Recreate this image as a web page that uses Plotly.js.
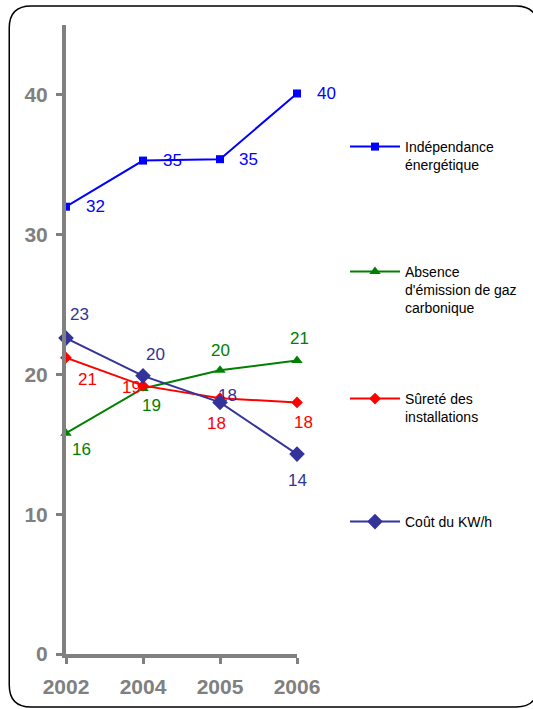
<!DOCTYPE html>
<html>
<head>
<meta charset="utf-8">
<script src="https://cdn.plot.ly/plotly-3.0.1.min.js"></script>
<style>html,body{margin:0;padding:0;background:#fff;}#chart{width:533px;height:709px;}</style>
</head>
<body>
<div id="chart"></div>
<script>
// ---- data ----
var years = ['2002', '2004', '2005', '2006'];
var seriesNames = [
  'Indépendance<br>énergétique',
  'Absence<br>d\'émission de gaz<br>carbonique',
  'Sûreté des<br>installations',
  'Coût du KW/h'
];
var independance = [32.0, 35.3, 35.4, 40.1];
var absenceCO2 = [15.8, 19.0, 20.3, 21.0];
var surete = [21.2, 19.2, 18.3, 18.0];
var cout = [22.6, 19.9, 18.0, 14.3];
var yTicks = [0, 10, 20, 30, 40];

// ---- styles ----
var colors = ['#0000FF', '#008000', '#FF0000', '#333399'];
var symbols = ['square', 'triangle-up', 'diamond', 'diamond'];
var msizes = [8, 10, 9, 12];
// label offsets in px (dx right, dy down)
var offsets = [
  [[29, 0], [29, 0], [28, 0], [29, 0]],
  [[15, 16], [8, 17], [0, -20], [2, -22]],
  [[21, 22], [-12, 2], [-4, 25], [6, 20]],
  [[13, -24], [12, -21], [7, -7], [0, 26]]
];
var allSeries = [independance, absenceCO2, surete, cout];
var legendIds = ['legend', 'legend2', 'legend3', 'legend4'];

var traces = allSeries.map(function (vals, i) {
  return {
    x: years, y: vals, type: 'scatter', mode: 'lines+markers',
    name: seriesNames[i], legend: legendIds[i],
    line: {color: colors[i], width: 2},
    marker: {color: colors[i], symbol: symbols[i], size: msizes[i]},
    cliponaxis: false, hoverinfo: 'skip'
  };
});

var annotations = [];
allSeries.forEach(function (vals, i) {
  vals.forEach(function (v, j) {
    annotations.push({
      x: j, y: v, xref: 'x', yref: 'y', showarrow: false,
      text: String(Math.round(v)),
      xshift: offsets[i][j][0], yshift: -offsets[i][j][1],
      font: {family: 'Liberation Sans, Arial, sans-serif', size: 17, color: colors[i]}
    });
  });
});

// plot area in px
var L = 66, R = 298, T = 25, B = 654;
function px(x) { return (x - L) / (R - L); }
function py(y) { return (B - y) / (B - T); }
function borderPath(x0, y0, x1, y1, r) {
  var pts = [
    'M', px(x0 + r), py(y0),
    'L', px(x1 - r), py(y0),
    'Q', px(x1), py(y0), px(x1), py(y0 + r),
    'L', px(x1), py(y1 - r),
    'Q', px(x1), py(y1), px(x1 - r), py(y1),
    'L', px(x0 + r), py(y1),
    'Q', px(x0), py(y1), px(x0), py(y1 - r),
    'L', px(x0), py(y0 + r),
    'Q', px(x0), py(y0), px(x0 + r), py(y0), 'Z'
  ];
  return pts.join(' ');
}

var legendFont = {family: 'Liberation Sans, Arial, sans-serif', size: 14, color: '#000'};
function mkLegend(ytop) {
  return {
    x: px(345), y: py(ytop), xref: 'paper', yref: 'paper',
    xanchor: 'left', yanchor: 'top', valign: 'top',
    bgcolor: 'rgba(0,0,0,0)', borderwidth: 0,
    font: legendFont, itemwidth: 50, itemclick: false
  };
}

var layout = {
  width: 533, height: 709,
  margin: {l: L, r: 533 - R, t: T, b: 709 - B},
  paper_bgcolor: '#fff', plot_bgcolor: 'rgba(0,0,0,0)',
  showlegend: true,
  legend: mkLegend(131),
  legend2: mkLegend(256),
  legend3: mkLegend(383),
  legend4: mkLegend(506),
  xaxis: {
    type: 'category', range: [0, 3], showgrid: false, zeroline: false,
    showline: true, linecolor: '#808080', linewidth: 4,
    ticks: 'outside', ticklen: 6, tickwidth: 3, tickcolor: '#808080',
    tickfont: {family: 'Liberation Sans, Arial, sans-serif', size: 21, color: '#808080', weight: 'bold'},
    ticklabelstandoff: 5, fixedrange: true
  },
  yaxis: {
    range: [0, 45], tickvals: yTicks, ticktext: yTicks.map(String),
    showgrid: false, zeroline: false,
    showline: true, linecolor: '#808080', linewidth: 4,
    ticks: 'outside', ticklen: 6, tickwidth: 3, tickcolor: '#808080',
    tickfont: {family: 'Liberation Sans, Arial, sans-serif', size: 21, color: '#808080', weight: 'bold'},
    ticklabelstandoff: 4, fixedrange: true
  },
  annotations: annotations,
  shapes: [{
    type: 'path', xref: 'paper', yref: 'paper',
    path: borderPath(9, 6, 540, 707, 22),
    line: {color: '#000', width: 1.5}, fillcolor: 'rgba(0,0,0,0)', layer: 'below'
  }]
};

Plotly.newPlot('chart', traces, layout, {displayModeBar: false, staticPlot: true});
</script>
</body>
</html>
